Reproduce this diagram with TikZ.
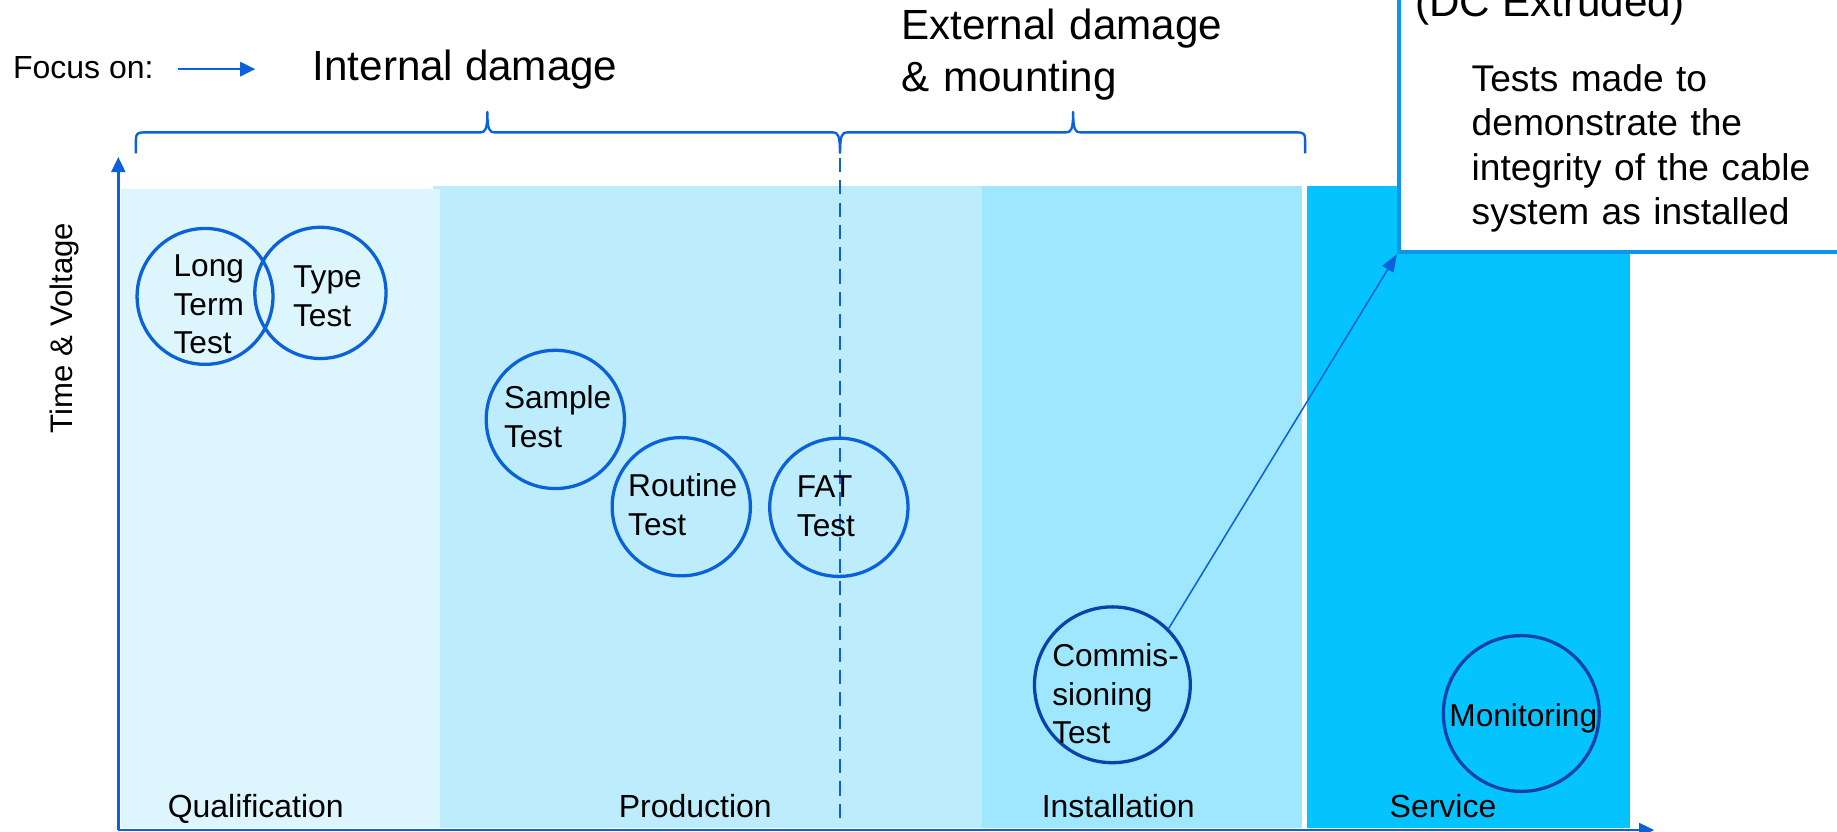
\documentclass[tikz,border=0pt]{standalone}
\usepackage{fontspec}
\setmainfont{Liberation Sans}
\usetikzlibrary{arrows.meta}

\definecolor{lineblue}{HTML}{0A61D9}
\definecolor{darkring}{HTML}{0842AA}
\definecolor{boxblue}{HTML}{0A96EC}
\definecolor{qualfill}{HTML}{DDF5FD}
\definecolor{prodfill}{HTML}{BDEDFC}
\definecolor{instfill}{HTML}{9EE7FE}
\definecolor{servfill}{HTML}{05C3FF}

\begin{document}
\begin{tikzpicture}[x=1pt,y=-1pt,
  axisline/.style={draw=lineblue,line width=2pt},
  bracepath/.style={draw=lineblue,line width=2pt,line join=round},
  ring/.style={circle,draw=lineblue,line width=2.8pt,inner sep=0pt},
  darkringstyle/.style={circle,draw=darkring,line width=2.8pt,inner sep=0pt},
  lbl/.style={anchor=base west,inner sep=0pt,text width=200pt,align=left,
    font=\fontsize{27}{33}\selectfont},
  plain/.style={anchor=base west,inner sep=0pt,font=\fontsize{27.3}{33}\selectfont},
  heading/.style={anchor=base west,inner sep=0pt,font=\fontsize{36}{44.3}\selectfont},
  tipA/.style={-{Triangle[length=13pt,width=12pt]}},
]
\useasboundingbox (0,0) rectangle (1568,710);
\clip (0,0) rectangle (1568,710);

% phase bands
\fill[prodfill] (370,159) rectangle (839,707);
\fill[qualfill] (103,161) rectangle (375.5,707);
\fill[instfill] (838.6,159) rectangle (1111,707);
\fill[servfill] (1116,159) rectangle (1391,707);

% axes
\coordinate (origin) at (101,708.5);
\coordinate (ytip) at (101,134);
\coordinate (xtip) at (1412,708.5);
\draw[axisline,tipA] (origin) -- (ytip);
\draw[axisline,tipA] (origin) -- (xtip);

% braces over the phases
\draw[bracepath] (116,131) -- (116,119) .. controls (116,114.5) and (117.5,113) .. (122,113)
  -- (410,113) .. controls (414,113) and (416,111) .. (416,95.5)
  .. controls (416,111) and (418,113) .. (422,113)
  -- (711,113) .. controls (715,113) and (717,115) .. (717,131);
\draw[bracepath] (717,131) .. controls (717,115) and (719,113) .. (723,113)
  -- (910,113) .. controls (914,113) and (916,111) .. (916,95.5)
  .. controls (916,111) and (918,113) .. (922,113)
  -- (1108,113) .. controls (1112.5,113) and (1114,114.5) .. (1114,119) -- (1114,131);

% boundary between factory and field
\draw[draw=lineblue,line width=2pt,dash pattern=on 12pt off 7pt] (717,135) -- (717,700);

% header texts
\node[plain] (focus) at (11,67) {Focus on:};
\coordinate (fa) at (152,59);
\coordinate (fb) at (218,59);
\draw[draw=lineblue,line width=2.2pt,tipA] (fa) -- (fb);
\node[heading] (internal) at (266.7,68.3) {Internal damage};
\node[heading,text width=320pt,align=left] (external) at (769,34) {External damage\\\& mounting};

% axis labels
\node[anchor=base,inner sep=0pt,rotate=90,font=\fontsize{26.6}{32}\selectfont] (ylabel) at (62,280) {Time \& Voltage};
\node[plain] (qual) at (143,698) {Qualification};
\node[plain] (prod) at (528,698) {Production};
\node[plain] (inst) at (889,698) {Installation};
\node[plain] (serv) at (1186,698) {Service};

% test circles
\node[ring,minimum size=116pt] (lt) at (175,253) {};
\node[ring,minimum size=112pt] (tt) at (273.5,250) {};
\node[ring,minimum size=118pt] (st) at (474,358) {};
\node[ring,minimum size=118pt] (rt) at (581.5,432.5) {};
\node[ring,minimum size=118pt] (fat) at (716,433) {};
\node[darkringstyle,minimum size=133pt] (com) at (949.5,584.5) {};
\node[darkringstyle,minimum size=133pt] (mon) at (1298.5,609) {};

\node[lbl] (ltlbl) at (148,236) {Long\\Term\\Test};
\node[lbl,font=\fontsize{27}{34}\selectfont] (ttlbl) at (250,245) {Type\\Test};
\node[lbl] (stlbl) at (430,349) {Sample\\Test};
\node[lbl] (rtlbl) at (536,424) {Routine\\Test};
\node[lbl] (fatlbl) at (680,425) {FAT\\Test};
\node[lbl] (comlbl) at (898,569) {Commis-\\sioning\\Test};
\node[lbl] (monlbl) at (1237,620) {Monitoring};

% explanation box
\node[draw=boxblue,line width=3.4pt,fill=white,inner sep=0pt,
  minimum width=520pt,minimum height=320pt,anchor=south west] (box) at (1192.4,217) {};
\node[heading] (dcext) at (1208,14) {(DC Extruded)};
\node[anchor=base west,inner sep=0pt,text width=320pt,align=left,
  font=\fontsize{31.7}{38}\selectfont] (boxtext) at (1256,78)
  {Tests made to\\demonstrate the\\integrity of the cable\\system as installed};

\draw[draw=lineblue,line width=1.3pt,-{Triangle[length=15pt,width=11pt]}] (com.45) -- (box.south west);
\end{tikzpicture}
\end{document}
